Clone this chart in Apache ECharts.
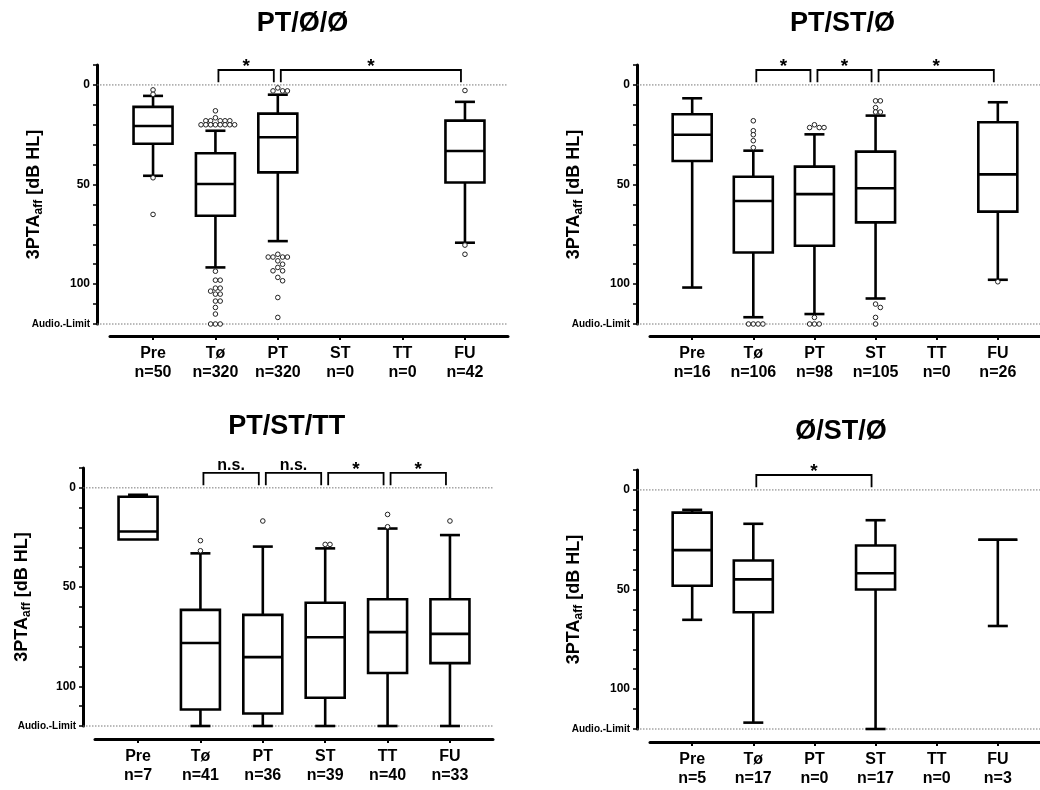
<!DOCTYPE html>
<html><head><meta charset="utf-8">
<script src="https://cdn.jsdelivr.net/npm/echarts@6/dist/echarts.min.js"></script>
<style>html,body{margin:0;padding:0;background:#fff}#c{width:1040px;height:790px}</style>
</head><body><div id="c"></div><script>
// ---------- data ----------
const categories = ['Pre', 'Tø', 'PT', 'ST', 'TT', 'FU'];
const panelTitles = ['PT/Ø/Ø', 'PT/ST/Ø', 'PT/ST/TT', 'Ø/ST/Ø'];
const yTickValues = [-10, 0, 10, 20, 30, 40, 50, 60, 70, 80, 90, 100, 110, 120];
const yLabelValues = [0, 50, 100, 120];
const yLabelTexts = ['0', '50', '100', 'Audio.-Limit'];
const refLines = [0, 120];

// boxes: [min, q1, median, q3, max]
const counts1 = [50, 320, 320, 0, 0, 42];
const boxes1 = [[5.5, 11, 20.6, 29.5, 45.6], [23, 34.3, 49.7, 65.7, 91.6], [4.9, 14.4, 26.3, 43.9, 78.4], null, null, [8.5, 17.9, 33.2, 49, 79.2]];
const outliers1 = [
  [2.5, 4.7, 46.6, 65],
  [13, 16.5, 18, 18, 18, 18, 18, 20, 20, 20, 20, 20, 20, 20, 20, 93.5, 98, 98, 102, 102, 103.5, 105, 105, 108.5, 108.5, 111.7, 115, 120, 120, 120],
  [1.5, 3, 3, 3, 85, 86.4, 86.4, 86.4, 86.4, 88.3, 90, 91.6, 93.3, 93.3, 96.6, 98.3, 106.7, 116.7],
  [], [], [2.8, 80.4, 85]];
const brackets1 = [[1, 2, '*'], [2, 5, '*']];

const counts2 = [16, 106, 98, 105, 0, 26];
const boxes2 = [[6.7, 14.7, 25, 38.2, 101.7], [33, 46.1, 58.3, 84.1, 116.6], [24.8, 41, 54.8, 80.7, 115], [15.4, 33.5, 51.9, 69, 107.2], null, [8.7, 18.7, 44.9, 63.6, 97.8]];
const outliers2 = [
  [],
  [18, 23, 25, 28, 31.5, 120, 120, 120, 120],
  [20, 21.4, 21.4, 21.4, 116.7, 120, 120, 120],
  [8, 8, 11.4, 13.6, 13.6, 110, 111.7, 116.7, 120],
  [], [98.8]];
const brackets2 = [[1, 2, '*'], [2, 3, '*'], [3, 5, '*']];

const counts3 = [7, 41, 36, 39, 40, 33];
const boxes3 = [[3.5, 4.5, 22, 26, 26], [33, 61.5, 78.2, 111.7, 120], [29.6, 64, 85.3, 113.7, 120], [30.5, 57.9, 75.3, 105.8, 120], [20.5, 56.1, 72.7, 93.3, 120], [23.8, 56.1, 73.6, 88.3, 120]];
const outliers3 = [[], [26.6, 31.7], [16.7], [28.5, 28.5], [13.4, 19.6], [16.7]];
const brackets3 = [[1, 2, 'n.s.'], [2, 3, 'n.s.'], [3, 4, '*'], [4, 5, '*']];

const counts4 = [5, 17, 0, 17, 0, 3];
const boxes4 = [[10, 11.4, 30.2, 48.1, 65.2], [17, 35.4, 44.9, 61.4, 116.8], null, [15.2, 27.9, 41.8, 50, 120], null, [25, 25, 25, 25, 68.3]];
const outliers4 = [[], [], [], [], [], []];
const brackets4 = [[1, 3, '*']];

// ---------- layout ----------
const FONT = '"Liberation Sans", Arial, Helvetica, sans-serif';
const panels = [
  { counts: counts1, boxes: boxes1, outliers: outliers1, brackets: brackets1, grid: { left: 110, right: 532, top: 65, bottom: 466 }, yOff: 13, xOff: 12, title: [302.5, 24], nameGap: 52 },
  { counts: counts2, boxes: boxes2, outliers: outliers2, brackets: brackets2, grid: { left: 650, right: -8, top: 65, bottom: 466 }, yOff: 13, xOff: 12, title: [842.5, 24], nameGap: 52 },
  { counts: counts3, boxes: boxes3, outliers: outliers3, brackets: brackets3, grid: { left: 95, right: 547, top: 468, bottom: 64 }, yOff: 12, xOff: 13, title: [286.7, 427], nameGap: 50 },
  { counts: counts4, boxes: boxes4, outliers: outliers4, brackets: brackets4, grid: { left: 650, right: -8, top: 470, bottom: 61 }, yOff: 13, xOff: 13, title: [841, 432], nameGap: 52 }
];
const X_MIN = -0.69, X_MAX = 5.69;
const BR_Y = -7.5, BR_LEG = -1.3;

function swarm(vals, thr) {
  const placed = [];
  return vals.map(v => {
    for (let k = 0; k < 40; k++) {
      const slot = k === 0 ? 0 : (k % 2 ? (k + 1) / 2 : -k / 2);
      if (!placed.some(p => p.s === slot && Math.abs(p.v - v) < thr)) { placed.push({ v, s: slot }); return slot; }
    }
    return 0;
  });
}

function boxRender(params, api) {
  const x = api.value(0);
  const p = [1, 2, 3, 4, 5].map(i => api.coord([x, api.value(i)]));
  const cx = p[0][0];
  const hw = 19.5, cw = 10;
  const st = { stroke: '#000', lineWidth: 2.6, fill: null };
  const ch = [];
  if (Math.abs(p[1][1] - p[0][1]) > 0.5) {
    ch.push({ type: 'line', shape: { x1: cx, y1: p[0][1], x2: cx, y2: p[1][1] }, style: st });
    ch.push({ type: 'line', shape: { x1: cx - cw, y1: p[0][1], x2: cx + cw, y2: p[0][1] }, style: st });
  }
  if (Math.abs(p[4][1] - p[3][1]) > 0.5) {
    ch.push({ type: 'line', shape: { x1: cx, y1: p[3][1], x2: cx, y2: p[4][1] }, style: st });
    ch.push({ type: 'line', shape: { x1: cx - cw, y1: p[4][1], x2: cx + cw, y2: p[4][1] }, style: st });
  }
  ch.push({ type: 'rect', shape: { x: cx - hw, y: p[1][1], width: hw * 2, height: p[3][1] - p[1][1] }, style: { stroke: '#000', lineWidth: 2.6, fill: '#fff' } });
  ch.push({ type: 'line', shape: { x1: cx - hw, y1: p[2][1], x2: cx + hw, y2: p[2][1] }, style: st });
  return { type: 'group', children: ch };
}

function outRender(params, api) {
  const c = api.coord([api.value(0), api.value(1)]);
  return { type: 'circle', shape: { cx: c[0] + api.value(2) * 4.8, cy: c[1], r: 2.3 }, style: { fill: '#fff', stroke: '#222', lineWidth: 1 } };
}

function makeBracketRender(list) {
  return function (params, api) {
    const a = api.coord([api.value(0), BR_Y]);
    const b = api.coord([api.value(1), BR_Y]);
    const l = api.coord([api.value(0), BR_LEG]);
    const x1 = a[0] + 3, x2 = b[0] - 4, y = a[1], yl = l[1];
    const text = list[params.dataIndex][2];
    const star = text === '*';
    return { type: 'group', children: [
      { type: 'polyline', shape: { points: [[x1, yl], [x1, y], [x2, y], [x2, yl]] }, style: { stroke: '#000', lineWidth: 1.8, fill: null } },
      { type: 'text', x: (x1 + x2) / 2, y: star ? y - 3 : y - 7.5, style: { text, align: 'center', verticalAlign: 'middle', fontFamily: FONT, fontWeight: 'bold', fontSize: star ? 19 : 16, fill: '#000' } }
    ] };
  };
}

function makeRefRender(yOff) {
  return function (params, api) {
    const c = api.coord([0, api.value(1)]);
    const cs = params.coordSys;
    return { type: 'line', shape: { x1: cs.x - yOff, y1: c[1], x2: cs.x + cs.width, y2: c[1] }, style: { stroke: '#777', lineWidth: 1, lineDash: [1.5, 1.5] } };
  };
}

const grids = [], xAxes = [], yAxes = [], series = [], graphics = [];
panels.forEach((pn, i) => {
  grids.push(Object.assign({ containLabel: false }, pn.grid));
  xAxes.push({
    type: 'value', gridIndex: i, min: X_MIN, max: X_MAX, offset: pn.xOff, position: 'bottom',
    splitLine: { show: false },
    axisLine: { show: true, onZero: false, lineStyle: { color: '#000', width: 3 } },
    axisTick: { show: true, customValues: [0, 1, 2, 3, 4, 5], length: 4, lineStyle: { color: '#000', width: 2 } },
    axisLabel: {
      customValues: [0, 1, 2, 3, 4, 5], margin: 8, color: '#000', fontFamily: FONT, fontWeight: 'bold', fontSize: 16, lineHeight: 19,
      formatter: v => categories[Math.round(v)] + '\n' + 'n=' + pn.counts[Math.round(v)]
    }
  });
  yAxes.push({
    type: 'value', gridIndex: i, inverse: true, min: -10, max: 120, offset: pn.yOff, position: 'left',
    splitLine: { show: false },
    axisLine: { show: true, onZero: false, lineStyle: { color: '#000', width: 3 } },
    axisTick: { show: true, customValues: yTickValues, length: 4, lineStyle: { color: '#000', width: 1.5 } },
    axisLabel: {
      customValues: yLabelValues, margin: 7, color: '#000', fontFamily: FONT, fontWeight: 'bold',
      formatter: v => { const k = yLabelValues.indexOf(v); return k === 3 ? '{s|' + yLabelTexts[k] + '}' : '{n|' + yLabelTexts[k] + '}'; },
      rich: { n: { fontSize: 12, fontWeight: 'bold', fontFamily: FONT, color: '#000' }, s: { fontSize: 10, fontWeight: 'bold', fontFamily: FONT, color: '#000' } }
    },
    name: '{m|3PTA}{s|aff}{m| [dB HL]}', nameLocation: 'middle', nameRotate: 90, nameGap: pn.nameGap, nameMoveOverlap: false,
    nameTextStyle: {
      rich: {
        m: { fontSize: 18, fontWeight: 'bold', fontFamily: FONT, color: '#000', lineHeight: 22, verticalAlign: 'middle' },
        s: { fontSize: 12, fontWeight: 'bold', fontFamily: FONT, color: '#000', lineHeight: 22, verticalAlign: 'bottom' }
      }
    }
  });
  series.push({
    type: 'custom', xAxisIndex: i, yAxisIndex: i, z: 1, silent: true,
    renderItem: makeRefRender(pn.yOff), data: refLines.map(v => [0, v])
  });
  const bdata = [];
  pn.boxes.forEach((b, c) => { if (b) bdata.push([c].concat(b)); });
  series.push({ type: 'custom', xAxisIndex: i, yAxisIndex: i, z: 2, silent: true, renderItem: boxRender, encode: { x: 0, y: [1, 2, 3, 4, 5] }, data: bdata });
  const odata = [];
  pn.outliers.forEach((arr, c) => { const s = swarm(arr, 2); arr.forEach((v, k) => odata.push([c, v, s[k]])); });
  series.push({ type: 'custom', xAxisIndex: i, yAxisIndex: i, z: 3, silent: true, renderItem: outRender, encode: { x: 0, y: 1 }, data: odata });
  series.push({ type: 'custom', xAxisIndex: i, yAxisIndex: i, z: 4, silent: true, renderItem: makeBracketRender(pn.brackets), data: pn.brackets.map(b => [b[0], b[1]]) });
  graphics.push({ type: 'text', x: pn.title[0], y: pn.title[1], style: { text: panelTitles[i], align: 'center', verticalAlign: 'middle', fontFamily: FONT, fontWeight: 'bold', fontSize: 27, fill: '#000' } });
});

const chart = echarts.init(document.getElementById('c'), null, { renderer: 'canvas' });
chart.setOption({
  animation: false, backgroundColor: '#fff',
  grid: grids, xAxis: xAxes, yAxis: yAxes, series, graphic: graphics
});
</script></body></html>
